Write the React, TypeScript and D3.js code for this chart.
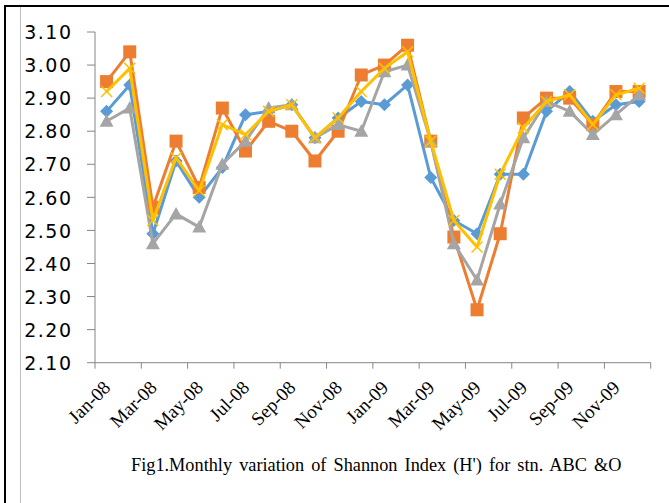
import React from "react";
import * as d3 from "d3";

const months = [
  "Jan-08","Feb-08","Mar-08","Apr-08","May-08","Jun-08","Jul-08","Aug-08","Sep-08","Oct-08","Nov-08","Dec-08",
  "Jan-09","Feb-09","Mar-09","Apr-09","May-09","Jun-09","Jul-09","Aug-09","Sep-09","Oct-09","Nov-09","Dec-09",
];
const seriesA = [2.86, 2.94, 2.49, 2.71, 2.60, 2.69, 2.85, 2.86, 2.88, 2.78, 2.84, 2.89, 2.88, 2.94, 2.66, 2.53, 2.49, 2.67, 2.67, 2.86, 2.92, 2.83, 2.88, 2.89];
const seriesB = [2.95, 3.04, 2.57, 2.77, 2.63, 2.87, 2.74, 2.83, 2.80, 2.71, 2.80, 2.97, 3.00, 3.06, 2.77, 2.48, 2.26, 2.49, 2.84, 2.90, 2.90, 2.82, 2.92, 2.92];
const seriesC = [2.83, 2.87, 2.46, 2.55, 2.51, 2.70, 2.77, 2.87, 2.88, 2.78, 2.82, 2.80, 2.98, 3.00, 2.77, 2.46, 2.35, 2.58, 2.78, 2.89, 2.86, 2.79, 2.85, 2.91];
const seriesD = [2.92, 2.99, 2.53, 2.72, 2.62, 2.82, 2.79, 2.86, 2.88, 2.78, 2.84, 2.92, 2.99, 3.04, 2.77, 2.53, 2.45, 2.67, 2.81, 2.89, 2.91, 2.82, 2.91, 2.93];
const yTicks = [2.1, 2.2, 2.3, 2.4, 2.5, 2.6, 2.7, 2.8, 2.9, 3.0, 3.1];
const caption = "Fig1.Monthly variation of Shannon Index (H') for stn. ABC &O";

const W = 669, H = 503;
const x = d3.scaleBand<string>().domain(months).range([95, 650.7]).paddingInner(0).paddingOuter(0);
const y = d3.scaleLinear().domain([2.1, 3.1]).range([362.7, 32]);
const cx = (m: string) => (x(m) as number) + x.bandwidth() / 2;

type S = { values: number[]; color: string; marker: string };
const series: S[] = [
  { values: seriesA, color: "#5B9BD5", marker: "diamond" },
  { values: seriesB, color: "#ED7D31", marker: "square" },
  { values: seriesC, color: "#A5A5A5", marker: "triangle" },
  { values: seriesD, color: "#FFC000", marker: "x" },
];

function Marker({ type, px, py, color }: { type: string; px: number; py: number; color: string }) {
  if (type === "diamond") {
    const r = 6.5;
    return <path d={`M${px},${py - r}L${px + r},${py}L${px},${py + r}L${px - r},${py}Z`} fill={color} />;
  }
  if (type === "square") {
    const s = 13;
    return <rect x={px - s / 2} y={py - s / 2} width={s} height={s} fill={color} />;
  }
  if (type === "triangle") {
    return <path d={`M${px},${py - 7}L${px + 7},${py + 5.5}L${px - 7},${py + 5.5}Z`} fill={color} />;
  }
  const r = 5.5;
  return (
    <path
      d={`M${px - r},${py - r}L${px + r},${py + r}M${px - r},${py + r}L${px + r},${py - r}`}
      stroke={color}
      strokeWidth={1.5}
      fill="none"
    />
  );
}

export default function App() {
  const line = d3
    .line<number>()
    .x((_, i) => cx(months[i]))
    .y((v) => y(v));
  const axisColor = "#868686";
  const x0 = 95, x1 = 650.7, yBase = y(2.1);
  const tickXs = months.filter((_, i) => i % 2 === 0).map((m) => x(m) as number).concat([x1]);
  return (
    <svg width={W} height={H} style={{ position: "absolute", left: 0, top: 0 }}>
      <rect x={0} y={0} width={W} height={H} fill="#fff" />
      <rect x={5} y={6} width={W + 20} height={H + 20} fill="none" stroke="#000" strokeWidth={2} />
      <line x1={20.5} x2={20.5} y1={7} y2={H} stroke="#BFBFBF" strokeWidth={1} />
      {/* y axis */}
      <line x1={x0} x2={x0} y1={y(3.1)} y2={yBase} stroke={axisColor} strokeWidth={1} />
      {yTicks.map((t) => (
        <g key={t}>
          <line x1={87} x2={x0} y1={y(t)} y2={y(t)} stroke={axisColor} strokeWidth={1} />
          <text
            x={72.5}
            y={y(t) + 7.2}
            textAnchor="end"
            fontFamily="DejaVu Sans"
            fontSize={19}
            letterSpacing={1.5}
            fill="#000"
          >
            {t.toFixed(2)}
          </text>
        </g>
      ))}
      {/* x axis */}
      <line x1={x0} x2={x1} y1={yBase} y2={yBase} stroke={axisColor} strokeWidth={1} />
      {tickXs.map((tx, i) => (
        <line key={i} x1={tx} x2={tx} y1={yBase} y2={yBase + 6} stroke={axisColor} strokeWidth={1} />
      ))}
      {months.map((m, i) =>
        i % 2 === 0 ? (
          <text
            key={m}
            transform={`translate(${cx(m) + 5},${yBase + 26}) rotate(-45)`}
            textAnchor="end"
            fontFamily="Liberation Serif"
            fontSize={19}
            fill="#000"
          >
            {m}
          </text>
        ) : null
      )}
      {series.map((s, k) => (
        <g key={k}>
          <path d={line(s.values) || ""} fill="none" stroke={s.color} strokeWidth={3} strokeLinejoin="round" strokeLinecap="round" />
          {s.values.map((v, i) => (
            <Marker key={i} type={s.marker} px={cx(months[i])} py={y(v)} color={s.color} />
          ))}
        </g>
      ))}
      <text x={131} y={471} fontFamily="Liberation Serif" fontSize={18.3} wordSpacing={2.5} fill="#000">
        {caption}
      </text>
    </svg>
  );
}
